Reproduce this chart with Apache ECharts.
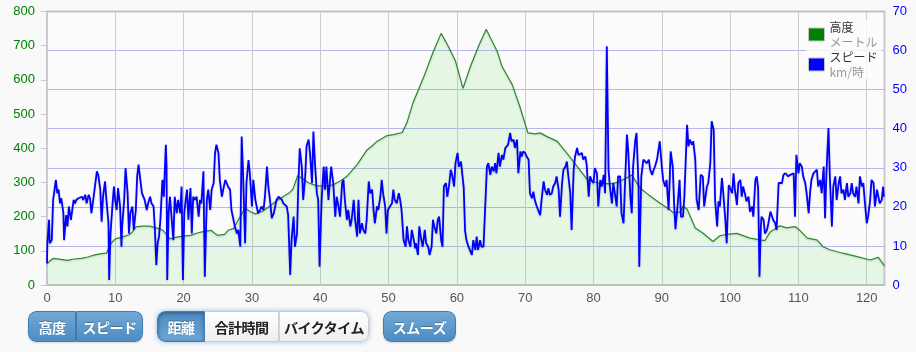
<!DOCTYPE html>
<html>
<head>
<meta charset="utf-8">
<script src="https://cdn.jsdelivr.net/npm/echarts@6/dist/echarts.min.js"></script>
<style>
body { margin: 0; background: #f9f9f9; font-family: "Liberation Sans", Arial, sans-serif; }
#chart { position: absolute; left: 0; top: 0; width: 916px; height: 352px; }
.grp { position: absolute; top: 311px; height: 31px; display: flex; border-radius: 8px; overflow: hidden; }
.btn { height: 31px; line-height: 30px; text-align: center; font-family: "Noto Sans CJK JP", sans-serif; font-weight: bold; font-size: 14px; box-sizing: border-box; letter-spacing: -0.5px; }
.blue { color: #fff; background: linear-gradient(#70a9d6, #4d8bc1); border: 1px solid #3f7db4; text-shadow: 0 -1px 0 rgba(0,0,0,0.25); }
.white { color: #222; background: linear-gradient(#ffffff, #eeeeee); border: 1px solid #cbcbcb; }
.act { background: linear-gradient(#4c8ac1, #6ea7d5); box-shadow: inset 0 1px 4px rgba(0,0,0,0.35); }
</style>
</head>
<body>
<div id="chart"></div>
<div class="grp" style="left:28px;width:115px;box-shadow:0 1px 2px rgba(0,0,0,0.15)">
  <div class="btn blue" style="width:48px;border-radius:8px 0 0 8px">高度</div>
  <div class="btn blue" style="width:67px;border-left:1px solid #3a74a8;border-radius:0 8px 8px 0">スピード</div>
</div>
<div class="grp" style="left:157px;width:212px;box-shadow:0 0 5px rgba(60,130,200,0.5)">
  <div class="btn blue act" style="width:48px;border-radius:8px 0 0 8px">距離</div>
  <div class="btn white" style="width:74px;border-left:none">合計時間</div>
  <div class="btn white" style="width:90px;border-left:1px solid #d6d6d6;border-radius:0 8px 8px 0">バイクタイム</div>
</div>
<div class="grp" style="left:383px;width:73px;box-shadow:0 1px 2px rgba(0,0,0,0.15)">
  <div class="btn blue" style="width:73px;border-radius:8px">スムーズ</div>
</div>
<script>
// 高度 (km, m)
var elevation = [
  [0,62],[0.5,72],[1,78],[2,75],[3,72],[4,76],[5,78],[6,82],[7,88],[8,92],
  [8.7,93],[9.1,112],[9.5,125],[10,135],[11,140],[12,147],[12.5,155],[13,170],[14,172],[15,172],
  [16,167],[17,160],[17.5,147],[18,135],[19,140],[20,143],[21,145],[22,152],[23,157],[24,160],
  [24.5,152],[25,145],[26,148],[26.5,160],[27.3,165],[28,190],[29,225],[29.7,215],[30.5,208],[31.5,215],
  [32.6,230],[33.5,245],[34.6,259],[35.5,270],[36,280],[36.7,320],[37.5,310],[38.2,300],[39.5,290],[41,290],
  [41.9,293],[43,305],[43.9,318],[45.4,352],[46.8,394],[47.5,405],[48.3,420],[49.8,437],[50.7,440],[52,446],
  [52.7,475],[53.6,534],[55.3,616],[56.5,680],[57.7,736],[58.7,700],[59.8,655],[60.9,575],[62,640],[63.2,700],
  [64.3,748],[65.1,715],[65.9,684],[66.6,640],[68.1,586],[69.2,523],[70.4,445],[71.5,442],[72.2,445],[73.2,434],
  [74.7,420],[76.1,386],[77.6,347],[79.1,308],[80.5,299],[82.4,296],[83.5,300],[84.3,308],[85.6,322],[86.8,284],
  [88,265],[89.7,240],[91.2,220],[91.7,211],[92.7,214],[93.1,230],[93.7,222],[94.9,167],[96,152],[97.5,127],
  [98.5,144],[99.5,148],[101,151],[102.9,137],[104.4,132],[105.1,130],[105.9,156],[107.3,173],[108.3,167],[109.5,171],
  [110.2,160],[111.3,137],[112.7,132],[113.6,112],[114.6,103],[116.5,93],[118.6,83],[120.5,73],[121.7,81],[122.6,56]
];

// スピード (km, km/時)
var speed = [
  [0,5.6],[0.05,10.7],[0.3,16.7],[0.4,10.7],[0.7,11.5],[0.9,21.8],[1.3,26.9],[1.5,23.5],[1.7,24.4],[1.9,20.9],
  [2.1,22.2],[2.4,18.4],[2.5,11.5],[2.8,17.9],[3.0,15.0],[3.2,20.1],[3.5,16.7],[3.7,19.2],[3.9,21.8],[4.1,20.9],
  [4.3,21.8],[4.6,22.2],[4.8,21.8],[5.1,22.6],[5.3,21.8],[5.6,23.1],[5.8,20.9],[6.1,23.1],[6.3,22.2],[6.5,18.4],
  [6.8,22.2],[7.0,21.8],[7.3,29.1],[7.5,28.2],[7.8,24.4],[8.0,16.2],[8.2,22.6],[8.5,26.5],[8.7,21.8],[9.0,15.8],
  [9.1,1.3],[9.3,13.2],[9.6,20.9],[9.8,25.2],[10.0,21.4],[10.2,19.2],[10.4,24.8],[10.7,20.1],[10.9,9.8],[11.0,15.0],
  [11.3,21.8],[11.5,29.9],[11.8,23.5],[12.0,13.2],[12.2,18.4],[12.5,20.1],[12.7,14.1],[13.0,19.2],[13.2,27.8],[13.4,30.8],
  [13.6,27.8],[13.9,23.5],[14.1,23.5],[14.3,21.8],[14.6,19.2],[14.8,20.9],[15.1,22.6],[15.3,20.9],[15.6,20.1],[15.8,14.1],
  [16.0,5.1],[16.2,10.7],[16.4,12.4],[16.6,16.7],[16.9,26.9],[17.1,22.6],[17.4,35.9],[17.5,30.3],[17.6,1.3],[17.8,18.4],
  [18.0,22.6],[18.3,15.8],[18.5,11.5],[18.7,22.6],[19.0,18.4],[19.2,21.8],[19.5,18.4],[19.7,25.2],[19.9,1.3],[20.1,18.4],
  [20.3,21.8],[20.5,24.4],[20.7,16.7],[21.0,24.8],[21.2,13.2],[21.4,22.6],[21.7,21.8],[21.9,22.6],[22.2,17.5],[22.4,21.8],
  [22.6,20.9],[22.9,29.1],[23.1,2.1],[23.4,21.8],[23.6,24.4],[23.9,19.2],[24.1,24.4],[24.4,26.1],[24.6,33.8],[24.8,35.9],
  [25.1,33.8],[25.3,26.9],[25.6,22.6],[25.8,24.4],[26.1,26.9],[26.3,26.1],[26.5,25.2],[26.8,24.4],[27.0,19.2],[27.2,19.2],
  [27.5,15.0],[27.8,13.2],[28.0,14.1],[28.3,9.8],[28.5,38.0],[28.7,28.6],[29.0,10.7],[29.2,26.1],[29.5,32.0],[29.7,28.6],
  [30.0,20.1],[30.2,26.9],[30.5,21.8],[30.7,20.1],[30.9,18.4],[31.2,19.2],[31.4,20.1],[31.7,19.2],[31.9,22.6],[32.2,30.3],
  [32.4,25.2],[32.7,20.9],[32.9,17.1],[33.2,18.4],[33.4,20.1],[33.6,21.8],[33.9,22.6],[34.1,22.2],[34.4,21.8],[34.6,20.9],
  [34.8,20.9],[35.1,20.1],[35.3,17.9],[35.6,2.6],[35.8,11.5],[36.1,17.5],[36.3,9.8],[36.6,13.2],[36.8,26.1],[37.0,35.0],
  [37.3,30.3],[37.5,21.8],[37.8,27.8],[38.0,35.6],[38.3,37.2],[38.5,33.8],[38.8,26.1],[39.0,39.3],[39.2,32.0],[39.5,23.5],
  [39.7,21.8],[39.9,4.7],[40.2,21.8],[40.5,30.3],[40.7,24.4],[40.9,30.3],[41.2,21.8],[41.4,26.1],[41.6,30.3],[41.9,26.1],
  [42.2,17.5],[42.4,22.6],[42.6,20.9],[42.9,17.5],[43.2,26.1],[43.4,26.9],[43.6,21.8],[43.9,16.7],[44.1,19.2],[44.4,15.0],
  [44.6,16.7],[44.9,21.8],[45.1,16.7],[45.4,12.4],[45.6,21.8],[45.8,13.2],[46.1,15.8],[46.3,14.1],[46.6,13.2],[46.8,16.7],
  [47.1,26.5],[47.3,23.5],[47.6,24.4],[47.8,19.2],[48.0,15.8],[48.3,20.1],[48.5,19.2],[48.8,22.6],[49.0,26.9],[49.2,23.5],
  [49.5,20.1],[49.7,13.2],[49.9,19.2],[50.2,20.1],[50.5,20.9],[50.7,24.4],[50.9,21.8],[51.2,20.9],[51.5,23.5],[51.7,21.8],
  [51.9,19.2],[52.2,11.5],[52.5,9.8],[52.7,15.0],[52.9,11.5],[53.2,9.8],[53.4,14.1],[53.7,11.5],[53.9,9.4],[54.0,10.7],
  [54.3,7.7],[54.5,15.0],[54.8,11.5],[55.0,9.8],[55.3,14.1],[55.5,10.7],[55.8,9.8],[56.0,7.7],[56.3,9.8],[56.5,16.7],
  [56.7,15.0],[57.0,13.2],[57.2,16.7],[57.4,17.5],[57.7,11.5],[57.9,9.8],[58.1,25.2],[58.4,26.1],[58.6,22.6],[58.9,26.1],
  [59.1,29.5],[59.3,28.2],[59.6,25.2],[59.8,31.2],[60.1,33.8],[60.3,30.3],[60.6,31.6],[60.8,31.2],[61.0,25.0],[61.2,13.9],
  [61.4,11.5],[61.7,9.8],[61.9,9.0],[62.2,7.7],[62.4,11.5],[62.7,9.0],[62.9,12.4],[63.1,9.0],[63.4,11.5],[63.6,9.8],
  [63.9,9.8],[64.1,10.3],[64.4,30.3],[64.6,31.2],[64.9,28.2],[65.1,30.3],[65.4,29.1],[65.6,31.2],[65.8,28.6],[66.1,33.8],
  [66.3,30.3],[66.6,33.3],[66.8,32.1],[67.1,35.1],[67.3,34.6],[67.5,35.9],[67.8,38.9],[68.0,36.8],[68.3,37.2],[68.5,35.1],
  [68.8,37.2],[69.0,28.6],[69.3,34.2],[69.5,32.9],[69.7,34.2],[70.0,33.8],[70.2,32.9],[70.5,32.1],[70.7,23.5],[71.0,22.2],
  [71.2,23.9],[71.4,21.8],[71.7,20.1],[71.9,20.1],[72.2,17.9],[72.4,21.8],[72.7,26.5],[72.9,24.4],[73.2,23.1],[73.4,24.8],
  [73.6,23.1],[73.9,23.5],[74.1,25.2],[74.4,26.1],[74.6,27.8],[74.9,24.4],[75.1,17.5],[75.4,26.1],[75.6,29.5],[75.9,30.3],
  [76.1,31.6],[76.3,28.2],[76.6,23.5],[76.8,14.1],[77.1,29.5],[77.3,32.9],[77.6,35.1],[77.8,33.3],[78.0,32.9],[78.3,33.8],
  [78.5,32.1],[78.8,32.9],[79.0,30.8],[79.3,22.6],[79.5,27.8],[79.7,26.9],[80.0,26.1],[80.2,29.9],[80.5,28.6],[80.7,20.1],
  [81.0,26.9],[81.2,25.2],[81.5,28.2],[81.7,23.5],[81.95,61.1],[82.2,29.5],[82.4,25.2],[82.7,20.9],[82.9,26.1],[83.2,22.6],
  [83.4,20.1],[83.6,27.8],[83.9,27.8],[84.1,18.4],[84.4,15.8],[84.6,25.2],[84.9,38.5],[85.1,33.8],[85.4,22.6],[85.6,18.4],
  [85.8,30.3],[86.1,36.8],[86.3,38.9],[86.6,25.2],[86.7,4.7],[87.0,27.8],[87.3,32.1],[87.8,31.2],[88.1,32.1],[88.3,29.5],
  [88.6,28.2],[88.8,29.5],[89.0,30.3],[89.3,32.1],[89.7,36.8],[90.0,30.3],[90.2,26.9],[90.5,25.2],[90.7,26.9],[91.0,19.2],
  [91.3,34.2],[91.6,30.3],[91.8,20.9],[92.0,14.3],[92.3,20.1],[92.6,26.9],[92.8,17.5],[93.1,17.5],[93.3,22.6],[93.7,41.0],
  [93.9,35.5],[94.1,37.2],[94.4,35.9],[94.6,36.8],[94.9,32.1],[95.1,21.8],[95.4,19.2],[95.7,28.2],[96.0,27.8],[96.2,20.1],
  [96.6,25.2],[96.8,26.1],[97.1,31.2],[97.3,41.9],[97.6,39.7],[97.8,21.8],[98.1,15.0],[98.3,21.4],[98.5,20.1],[98.8,27.4],
  [99.0,23.5],[99.3,16.7],[99.5,10.7],[99.8,25.6],[100.0,25.2],[100.3,23.5],[100.5,28.6],[100.7,24.4],[101.0,20.5],[101.2,26.1],
  [101.5,26.9],[101.7,22.6],[101.9,25.2],[102.2,23.1],[102.4,21.4],[102.7,22.6],[102.9,18.8],[103.2,20.1],[103.4,17.5],[103.7,26.9],
  [103.9,27.8],[104.1,24.8],[104.3,2.1],[104.5,15.0],[104.6,17.5],[104.9,16.7],[105.1,13.2],[105.4,14.1],[105.6,15.8],[105.9,18.8],
  [106.1,19.2],[106.3,16.7],[106.6,15.8],[106.8,14.1],[107.1,26.1],[107.3,26.5],[107.6,26.1],[107.8,28.2],[108.1,28.6],[108.3,28.2],
  [108.5,27.8],[108.8,28.2],[109.0,27.8],[109.3,28.6],[109.5,17.5],[109.7,33.3],[110.0,28.6],[110.2,31.2],[110.5,30.3],[110.7,27.8],
  [111.0,26.1],[111.2,23.5],[111.5,18.4],[111.7,23.5],[111.9,26.9],[112.2,28.6],[112.4,28.2],[112.7,29.5],[112.9,25.2],[113.2,26.9],
  [113.4,23.5],[113.7,30.3],[113.9,17.1],[114.1,28.6],[114.4,40.2],[114.6,27.8],[114.9,15.0],[115.1,25.2],[115.4,27.8],[115.6,21.8],
  [115.9,26.1],[116.1,27.8],[116.3,23.5],[116.6,24.4],[116.8,21.8],[117.1,26.1],[117.3,22.6],[117.6,23.5],[117.8,26.1],[118.0,23.5],
  [118.3,22.6],[118.5,25.2],[118.8,20.9],[119.0,27.8],[119.3,25.2],[119.5,26.1],[119.7,21.8],[120.0,15.8],[120.2,17.5],[120.5,21.8],
  [120.7,26.9],[121.0,26.1],[121.2,20.1],[121.5,24.4],[121.7,24.8],[121.9,20.9],[122.2,21.8],[122.4,25.2],[122.5,22.6]
];

var seriesNames = ['高度', 'スピード'];
var seriesUnits = ['メートル', 'km/時'];
var distMax = 122.6;

var myChart = echarts.init(document.getElementById('chart'), null, { renderer: 'canvas' });

var option = {
  animation: false,
  backgroundColor: '#f9f9f9',
  textStyle: { fontFamily: '"Liberation Sans", Arial, sans-serif' },
  grid: {
    left: 47, right: 31.5, top: 11.5, bottom: 67,
    show: true, borderColor: '#c8c8c8', borderWidth: 2, backgroundColor: '#fbfbfb'
  },
  legend: {
    data: seriesNames,
    orient: 'vertical',
    left: 806, top: 20,
    itemWidth: 16, itemHeight: 13, itemGap: 3,
    icon: 'rect',
    backgroundColor: 'rgba(251,251,251,0.85)',
    padding: [1, 4, 1, 2],
    itemStyle: { borderColor: '#c4c4c4', borderWidth: 1 },
    formatter: function (name) {
      var i = seriesNames.indexOf(name);
      return '{t|' + name + '}\n{s|' + seriesUnits[i] + '}';
    },
    textStyle: {
      rich: {
        t: { fontSize: 12, color: '#333', lineHeight: 15, fontFamily: '"Noto Sans CJK JP", sans-serif' },
        s: { fontSize: 12, color: '#999', lineHeight: 15, fontFamily: '"Noto Sans CJK JP", sans-serif' }
      }
    }
  },
  xAxis: {
    type: 'value', min: 0, max: distMax, interval: 10,
    axisLine: { show: false }, axisTick: { show: false },
    axisLabel: { color: '#555', fontSize: 13, margin: 7, showMaxLabel: false },
    splitLine: { show: true, lineStyle: { color: '#cccccc', width: 1 } }
  },
  yAxis: [
    {
      type: 'value', min: 0, max: 800, interval: 100, position: 'left',
      axisLine: { show: false },
      axisTick: { show: true, length: 6, lineStyle: { color: '#c8c8c8' } },
      axisLabel: { color: '#008000', fontSize: 13, margin: 12 },
      splitLine: { show: false }
    },
    {
      type: 'value', min: 0, max: 70, interval: 10, position: 'right',
      axisLine: { show: false }, axisTick: { show: false },
      axisLabel: { color: '#0000ff', fontSize: 13, margin: 8 },
      splitLine: { show: true, lineStyle: { color: '#b6b6f2', width: 1 } }
    }
  ],
  series: [
    {
      name: seriesNames[0], type: 'line', yAxisIndex: 0, data: elevation,
      showSymbol: false, z: 2,
      itemStyle: { color: '#008000' },
      lineStyle: { color: '#2a8a2a', width: 1.2, shadowColor: 'rgba(0,0,0,0.15)', shadowBlur: 2, shadowOffsetY: 1 },
      areaStyle: { color: 'rgba(80,215,80,0.18)' }
    },
    {
      name: seriesNames[1], type: 'line', yAxisIndex: 1, data: speed,
      showSymbol: false, z: 3,
      itemStyle: { color: '#0000ff' },
      lineStyle: { color: '#0000ff', width: 1.8, shadowColor: 'rgba(0,0,0,0.2)', shadowBlur: 2, shadowOffsetY: 1 }
    }
  ]
};

myChart.setOption(option);
</script>
</body>
</html>
